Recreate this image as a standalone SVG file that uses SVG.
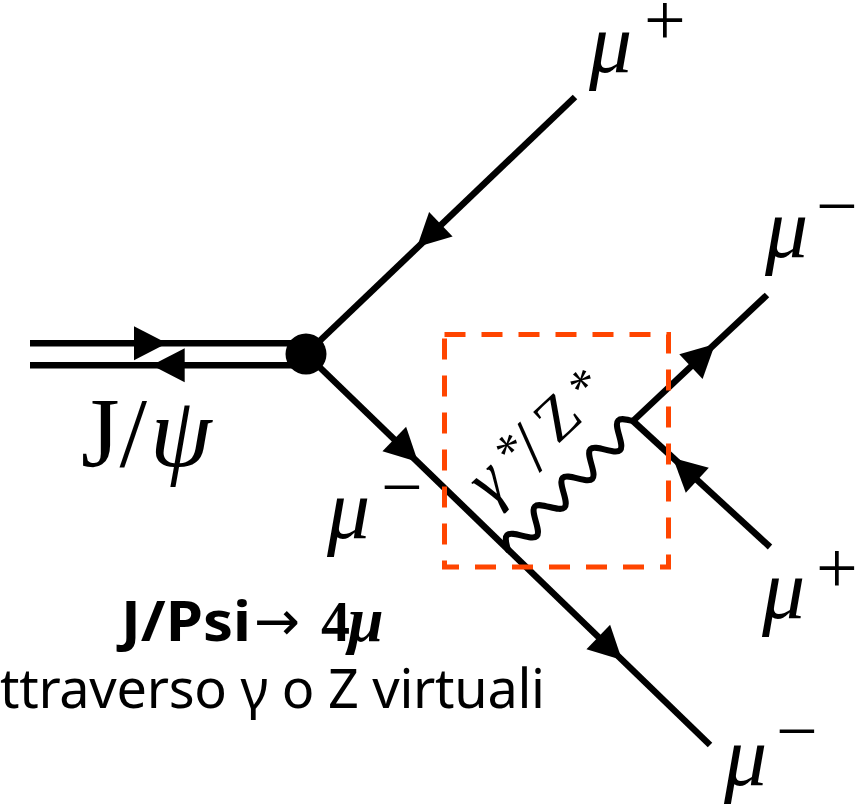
<svg xmlns="http://www.w3.org/2000/svg" width="857" height="805" viewBox="0 0 857 805">
<defs>
<style>
.ln{stroke:#000;stroke-width:6.5;fill:none;stroke-linecap:butt}
.ph{stroke:#000;stroke-width:6;fill:none;stroke-linejoin:round;stroke-linecap:round}
.ah{fill:#000}
.lab{font-family:"Liberation Serif","Times New Roman",serif;fill:#000}
.mu{font-style:italic;font-size:86px}
.sup{font-style:normal;font-size:74px}
.box{fill:none;stroke:#FF4500;stroke-width:5;stroke-dasharray:21 16}
.cap{font-family:"Noto Sans","Open Sans",sans-serif;fill:#000}
.ser{font-family:"Liberation Serif","Times New Roman",serif}
</style>
<path id="ah" d="M0,0 L-33,-17 L-33,17 Z"/>
</defs>
<rect width="857" height="805" fill="#fff"/>

<g id="connectors">
  <line class="ln" x1="30" y1="343.3" x2="306" y2="343.3"/>
  <line class="ln" x1="30" y1="365.3" x2="306" y2="365.3"/>
  <line class="ln" x1="575" y1="97" x2="306" y2="354"/>
  <line class="ln" x1="306" y1="354" x2="710" y2="745"/>
  <line class="ln" x1="633" y1="421" x2="767" y2="295"/>
  <line class="ln" x1="770" y1="547" x2="633" y2="421"/>
  <path class="ph" transform="translate(508,550) rotate(-45.9)" d="M0,0 c3.26,-5.64 6.37,-11 9.98,-11 c3.61,0 6.72,5.36 9.98,11 c3.26,5.64 6.37,11 9.98,11 c3.61,0 6.72,-5.36 9.98,-11 c3.26,-5.64 6.37,-11 9.98,-11 c3.61,0 6.72,5.36 9.98,11 c3.26,5.64 6.37,11 9.98,11 c3.61,0 6.72,-5.36 9.98,-11 c3.26,-5.64 6.37,-11 9.98,-11 c3.61,0 6.72,5.36 9.98,11 c3.26,5.64 6.37,11 9.98,11 c3.61,0 6.72,-5.36 9.98,-11 c3.26,-5.64 6.37,-11 9.98,-11 c3.61,0 6.72,5.36 9.98,11 c3.26,5.64 6.37,11 9.98,11 c3.61,0 6.72,-5.36 9.98,-11 c3.26,-5.64 6.37,-11 9.98,-11 c3.61,0 6.72,5.36 9.98,11"/>
  <use href="#ah" class="ah" transform="translate(167,343.3)"/>
  <use href="#ah" class="ah" transform="translate(151.7,365.3) rotate(180)"/>
  <use href="#ah" class="ah" transform="translate(417,247) rotate(136.3)"/>
  <use href="#ah" class="ah" transform="translate(418,462) rotate(44.06)"/>
  <use href="#ah" class="ah" transform="translate(622,660) rotate(44.06)"/>
  <use href="#ah" class="ah" transform="translate(715,344) rotate(-43.2)"/>
  <use href="#ah" class="ah" transform="translate(673,458) rotate(-137.4)"/>
</g>

<g id="vertex">
  <circle cx="306" cy="354" r="20.5" fill="#000"/>
</g>

<g id="jpsi">
  <text class="lab" font-size="99"><tspan x="81" y="466">J/</tspan><tspan x="150" y="466" font-style="italic">ψ</tspan></text>
</g>

<g id="mu-plus-top">
  <text class="lab"><tspan class="mu" x="589" y="72">μ</tspan><tspan class="sup" x="644" y="45">+</tspan></text>
</g>
<g id="mu-minus-right">
  <text class="lab"><tspan class="mu" x="765" y="257">μ</tspan><tspan class="sup" x="816" y="231">−</tspan></text>
</g>
<g id="mu-plus-right">
  <text class="lab"><tspan class="mu" x="762" y="618">μ</tspan><tspan class="sup" x="816" y="593">+</tspan></text>
</g>
<g id="mu-minus-bottom">
  <text class="lab"><tspan class="mu" x="724" y="785">μ</tspan><tspan class="sup" x="776" y="756">−</tspan></text>
</g>
<g id="mu-minus-left">
  <text class="lab"><tspan class="mu" x="327" y="538">μ</tspan><tspan class="sup" x="381" y="512">−</tspan></text>
</g>

<g id="photon-label">
  <text class="lab" transform="translate(573.3,430) rotate(-43)"><tspan x="-112" y="0" font-style="italic" font-size="68">γ</tspan><tspan x="-71" y="-11" font-size="50">*</tspan><tspan x="-54" y="7.6" font-size="76">/</tspan><tspan x="-22" y="0" font-size="62">Z</tspan><tspan x="27" y="-8" font-size="50">*</tspan></text>
</g>

<g id="virtual-box">
  <rect class="box" x="444.5" y="334.5" width="224" height="232.5"/>
</g>

<g id="caption">
  <text class="cap" y="640"><tspan x="121" y="641" font-weight="700" font-size="56" textLength="130" lengthAdjust="spacingAndGlyphs">J/Psi</tspan><tspan x="254" y="640" font-family="'DejaVu Sans',sans-serif" font-size="55">→</tspan><tspan class="ser" x="321" y="641" font-weight="700" font-size="58">4</tspan><tspan class="ser" x="348" y="641" font-weight="700" font-style="italic" font-size="64">μ</tspan></text>
  <text class="cap" x="0" y="708" font-size="54" textLength="545">ttraverso γ o Z virtuali</text>
</g>
</svg>
